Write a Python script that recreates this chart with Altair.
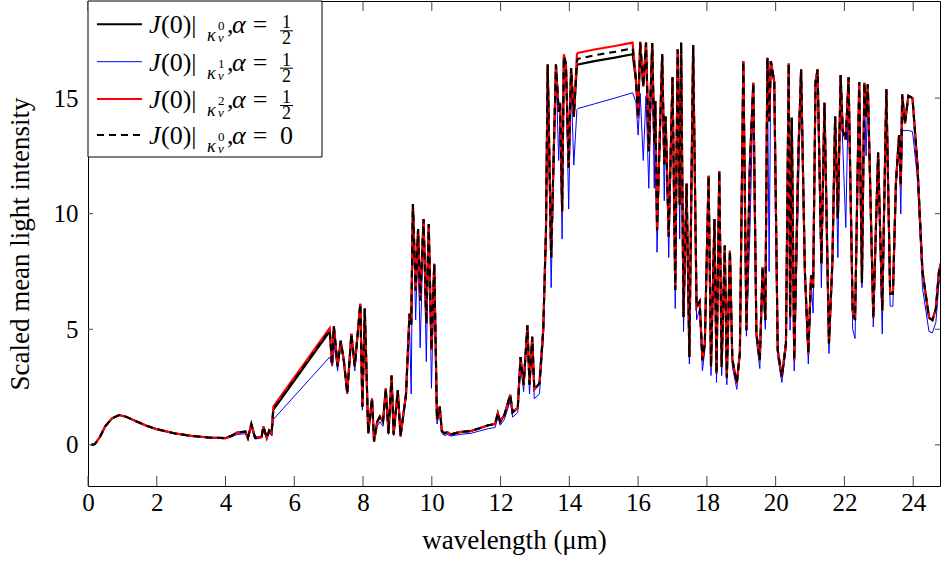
import altair as alt
import pandas as pd

FONT = "'Liberation Serif', 'DejaVu Serif', serif"

# ---------------- data ----------------
wavelength = [
    0.10, 0.20, 0.35, 0.50, 0.70, 0.91, 1.10, 1.40, 1.70, 2.00,
    2.50, 3.00, 3.50, 4.00, 4.15, 4.34, 4.58, 4.65, 4.75, 4.86,
    5.05, 5.10, 5.20, 5.27, 5.34, 5.39, 7.03, 7.10, 7.15, 7.26,
    7.35, 7.44, 7.54, 7.66, 7.76, 7.92, 7.98, 8.05, 8.15, 8.26,
    8.32, 8.41, 8.49, 8.58, 8.66, 8.74, 8.83, 8.89, 9.01, 9.09,
    9.25, 9.35, 9.40, 9.45, 9.53, 9.60, 9.66, 9.76, 9.84, 9.91,
    9.99, 10.07, 10.15, 10.23, 10.29, 10.37, 10.45, 10.55, 10.81, 11.14,
    11.39, 11.64, 11.84, 11.92, 11.99, 12.11, 12.28, 12.35, 12.50, 12.58,
    12.67, 12.78, 12.84, 12.92, 12.98, 13.13, 13.24, 13.32, 13.37, 13.47,
    13.61, 13.69, 13.73, 13.79, 13.84, 13.90, 13.98, 14.05, 14.13, 14.22,
    14.25, 14.73, 15.32, 15.84, 15.94, 16.00, 16.06, 16.15, 16.23, 16.31,
    16.41, 16.47, 16.50, 16.55, 16.70, 16.76, 16.80, 16.89, 17.00, 17.08,
    17.15, 17.21, 17.25, 17.32, 17.41, 17.49, 17.60, 17.70, 17.79, 17.87,
    17.94, 18.05, 18.12, 18.22, 18.28, 18.36, 18.43, 18.52, 18.58, 18.67,
    18.74, 18.87, 18.96, 19.06, 19.15, 19.25, 19.35, 19.44, 19.54, 19.62,
    19.70, 19.76, 19.81, 19.86, 19.96, 20.06, 20.18, 20.30, 20.38, 20.42,
    20.47, 20.54, 20.66, 20.74, 20.85, 20.95, 21.03, 21.09, 21.16, 21.22,
    21.33, 21.42, 21.55, 21.65, 21.73, 21.81, 21.89, 21.95, 22.04, 22.12,
    22.24, 22.31, 22.43, 22.51, 22.58, 22.63, 22.68, 22.84, 22.98, 23.10,
    23.22, 23.33, 23.41, 23.50, 23.59, 23.64, 23.68, 23.76, 23.86, 23.98,
    24.12, 24.27, 24.46, 24.56, 24.66, 24.75, 24.83,
]

# J(0) with kappa^0, alpha = 1/2  (solid black)
j_k0_half = [
    0.00, 0.03, 0.35, 0.80, 1.15, 1.29, 1.22, 1.02, 0.83, 0.68,
    0.50, 0.39, 0.32, 0.29, 0.38, 0.53, 0.57, 0.30, 0.90, 0.30,
    0.35, 0.79, 0.30, 0.62, 0.50, 1.51, 4.91, 3.45, 5.13, 3.40,
    4.50, 3.66, 2.23, 4.80, 3.40, 6.10, 1.65, 5.90, 0.50, 2.00,
    0.15, 1.00, 1.22, 1.00, 2.44, 0.50, 3.00, 0.45, 2.37, 0.37,
    2.20, 5.67, 5.20, 10.42, 6.68, 9.34, 6.25, 9.77, 5.24, 9.55,
    4.10, 7.83, 1.08, 1.65, 0.60, 0.50, 0.55, 0.45, 0.55, 0.60,
    0.72, 0.85, 0.90, 1.37, 1.00, 1.29, 2.16, 1.40, 1.60, 3.80,
    2.60, 5.17, 2.60, 4.67, 2.40, 2.66, 4.96, 9.27, 16.45, 8.10,
    16.45, 14.40, 14.80, 10.10, 16.80, 16.50, 12.00, 16.30, 14.20, 16.40,
    16.45, 16.60, 16.75, 16.90, 15.70, 14.15, 17.40, 15.50, 17.40, 12.70,
    17.38, 13.00, 14.87, 9.27, 16.90, 12.14, 14.20, 9.00, 15.90, 6.70,
    17.10, 10.40, 17.40, 5.53, 11.30, 3.80, 17.30, 5.96, 6.20, 3.66,
    4.40, 11.64, 3.37, 9.77, 3.09, 11.85, 3.37, 8.62, 2.90, 8.40,
    3.70, 2.66, 4.00, 16.60, 4.96, 12.14, 15.66, 4.81, 3.66, 7.68,
    5.40, 16.74, 14.00, 16.60, 15.70, 4.10, 2.95, 4.40, 16.50, 5.50,
    14.15, 3.66, 12.57, 16.24, 7.50, 3.95, 7.33, 6.80, 15.70, 16.24,
    7.83, 14.80, 4.38, 7.90, 14.20, 9.80, 16.00, 13.60, 13.20, 15.90,
    5.80, 5.40, 15.70, 7.00, 15.66, 14.20, 15.60, 5.50, 12.64, 5.80,
    15.38, 6.54, 6.54, 11.40, 13.40, 11.20, 15.16, 13.90, 15.10, 15.00,
    12.20, 7.50, 5.50, 5.40, 5.90, 7.50, 8.00,
]

# J(0) with kappa^1, alpha = 1/2  (thin blue)
j_k1_half = [
    0.00, 0.03, 0.35, 0.80, 1.15, 1.29, 1.22, 1.02, 0.83, 0.68,
    0.50, 0.39, 0.32, 0.28, 0.33, 0.45, 0.48, 0.25, 0.75, 0.25,
    0.30, 0.65, 0.28, 0.50, 0.40, 1.10, 3.80, 3.40, 4.40, 3.20,
    4.50, 3.50, 2.20, 4.50, 3.20, 6.00, 1.50, 5.80, 0.50, 1.80,
    0.15, 0.80, 1.00, 0.80, 2.20, 0.45, 2.80, 0.40, 2.20, 0.35,
    2.00, 5.30, 2.20, 10.20, 5.40, 9.00, 4.20, 9.50, 3.60, 9.30,
    2.45, 7.60, 0.90, 1.50, 0.50, 0.40, 0.45, 0.38, 0.45, 0.50,
    0.60, 0.70, 0.75, 1.20, 0.85, 1.10, 1.90, 1.20, 1.40, 3.50,
    2.30, 4.90, 2.20, 4.40, 2.00, 2.20, 4.50, 9.00, 16.30, 6.80,
    16.30, 12.30, 14.20, 8.90, 16.60, 16.30, 10.20, 15.60, 12.10, 14.50,
    14.55, 14.75, 15.00, 15.23, 14.80, 13.40, 15.20, 12.30, 15.10, 11.10,
    16.80, 11.10, 14.50, 8.33, 16.80, 10.56, 14.00, 8.10, 15.80, 5.90,
    17.00, 8.90, 17.30, 4.90, 11.00, 3.50, 17.20, 5.40, 5.90, 3.20,
    4.10, 11.50, 3.00, 9.60, 2.70, 11.70, 3.00, 8.40, 2.60, 8.20,
    3.40, 2.40, 3.80, 16.50, 4.70, 9.10, 15.50, 4.50, 3.30, 7.40,
    5.00, 16.60, 7.50, 16.50, 15.50, 3.80, 2.70, 4.10, 16.40, 4.96,
    14.00, 3.20, 10.85, 16.10, 7.20, 3.50, 7.00, 5.70, 15.60, 16.10,
    6.80, 14.60, 3.95, 7.60, 14.00, 8.10, 15.90, 13.00, 9.40, 15.60,
    5.00, 4.60, 15.50, 6.80, 15.50, 12.50, 15.40, 5.10, 12.40, 4.80,
    15.20, 6.00, 6.00, 11.00, 13.20, 9.99, 13.60, 13.60, 13.60, 13.55,
    11.60, 6.80, 4.90, 4.85, 5.30, 7.00, 7.50,
]

# J(0) with kappa^2, alpha = 1/2  (solid red)
j_k2_half = [
    0.00, 0.03, 0.35, 0.80, 1.15, 1.29, 1.22, 1.02, 0.83, 0.68,
    0.50, 0.39, 0.32, 0.29, 0.38, 0.53, 0.57, 0.30, 0.90, 0.30,
    0.35, 0.79, 0.30, 0.62, 0.50, 1.65, 5.05, 3.45, 5.13, 3.40,
    4.50, 3.66, 2.23, 4.80, 3.40, 6.10, 1.65, 5.90, 0.50, 2.00,
    0.15, 1.00, 1.22, 1.00, 2.44, 0.50, 3.00, 0.45, 2.37, 0.37,
    2.20, 5.67, 5.20, 10.42, 6.68, 9.34, 6.25, 9.77, 5.24, 9.55,
    4.10, 7.83, 1.08, 1.65, 0.60, 0.50, 0.55, 0.45, 0.55, 0.60,
    0.72, 0.85, 0.90, 1.37, 1.00, 1.29, 2.16, 1.40, 1.60, 3.80,
    2.60, 5.17, 2.60, 4.67, 2.40, 2.66, 4.96, 9.27, 16.45, 8.10,
    16.45, 14.40, 14.80, 10.10, 16.90, 16.50, 12.00, 16.30, 14.20, 16.90,
    16.95, 17.10, 17.25, 17.40, 15.80, 14.15, 17.45, 15.50, 17.40, 12.70,
    17.38, 13.00, 14.87, 9.27, 16.90, 12.14, 14.20, 9.00, 15.90, 6.70,
    17.10, 10.40, 17.40, 5.53, 11.30, 3.80, 17.30, 5.96, 6.20, 3.66,
    4.40, 11.64, 3.37, 9.77, 3.09, 11.85, 3.37, 8.62, 2.90, 8.40,
    3.70, 2.66, 4.00, 16.60, 4.96, 12.14, 15.66, 4.81, 3.66, 7.68,
    5.40, 16.74, 14.00, 16.60, 15.70, 4.10, 2.95, 4.40, 16.50, 5.50,
    14.15, 3.66, 12.57, 16.24, 7.50, 3.95, 7.33, 6.80, 15.70, 16.24,
    7.83, 14.80, 4.38, 7.90, 14.20, 9.80, 16.00, 13.60, 13.20, 15.90,
    5.80, 5.40, 15.70, 7.00, 15.66, 14.20, 15.60, 5.50, 12.64, 5.80,
    15.38, 6.54, 6.54, 11.40, 13.40, 11.20, 15.16, 13.90, 15.10, 15.00,
    12.20, 7.50, 5.50, 5.40, 5.90, 7.50, 8.00,
]

# J(0) with kappa^0, alpha = 0  (dashed black)
j_k0_zero = [
    0.00, 0.03, 0.35, 0.80, 1.15, 1.29, 1.22, 1.02, 0.83, 0.68,
    0.50, 0.39, 0.32, 0.29, 0.38, 0.53, 0.57, 0.30, 0.90, 0.30,
    0.35, 0.79, 0.30, 0.62, 0.50, 1.55, 4.95, 3.45, 5.13, 3.40,
    4.50, 3.66, 2.23, 4.80, 3.40, 6.10, 1.65, 5.90, 0.50, 2.00,
    0.15, 1.00, 1.22, 1.00, 2.44, 0.50, 3.00, 0.45, 2.37, 0.37,
    2.20, 5.67, 5.20, 10.42, 6.68, 9.34, 6.25, 9.77, 5.24, 9.55,
    4.10, 7.83, 1.08, 1.65, 0.60, 0.50, 0.55, 0.45, 0.55, 0.60,
    0.72, 0.85, 0.90, 1.37, 1.00, 1.29, 2.16, 1.40, 1.60, 3.80,
    2.60, 5.17, 2.60, 4.67, 2.40, 2.66, 4.96, 9.27, 16.45, 8.10,
    16.45, 14.40, 14.80, 10.10, 16.80, 16.50, 12.00, 16.30, 14.20, 16.60,
    16.70, 16.85, 17.00, 17.15, 15.75, 14.15, 17.40, 15.50, 17.40, 12.70,
    17.38, 13.00, 14.87, 9.27, 16.90, 12.14, 14.20, 9.00, 15.90, 6.70,
    17.10, 10.40, 17.40, 5.53, 11.30, 3.80, 17.30, 5.96, 6.20, 3.66,
    4.40, 11.64, 3.37, 9.77, 3.09, 11.85, 3.37, 8.62, 2.90, 8.40,
    3.70, 2.66, 4.00, 16.60, 4.96, 12.14, 15.66, 4.81, 3.66, 7.68,
    5.40, 16.74, 14.00, 16.60, 15.70, 4.10, 2.95, 4.40, 16.50, 5.50,
    14.15, 3.66, 12.57, 16.24, 7.50, 3.95, 7.33, 6.80, 15.70, 16.24,
    7.83, 14.80, 4.38, 7.90, 14.20, 9.80, 16.00, 13.60, 13.20, 15.90,
    5.80, 5.40, 15.70, 7.00, 15.66, 14.20, 15.60, 5.50, 12.64, 5.80,
    15.38, 6.54, 6.54, 11.40, 13.40, 11.20, 15.16, 13.90, 15.10, 15.00,
    12.20, 7.50, 5.50, 5.40, 5.90, 7.50, 8.00,
]

x_ticks = [0, 2, 4, 6, 8, 10, 12, 14, 16, 18, 20, 22, 24]
y_ticks = [0, 5, 10, 15]
x_domain = [0, 24.78]
y_domain = [-1.78, 19.2]

# ---------------- chart ----------------
W, H = 852, 485

df = pd.DataFrame({
    "wavelength": wavelength,
    "k0_half": j_k0_half,
    "k1_half": j_k1_half,
    "k2_half": j_k2_half,
    "k0_zero": j_k0_zero,
})

xs = alt.Scale(domain=x_domain, nice=False, zero=False)
ys = alt.Scale(domain=y_domain, nice=False, zero=False)

x_axis = alt.Axis(values=x_ticks, format="d", title="wavelength (μm)",
                  ticks=False, domain=False, grid=False, labelFlush=False,
                  labelOverlap=False, labelPadding=4, titlePadding=12)
y_axis = alt.Axis(values=y_ticks, format="d", title="Scaled mean light intensity",
                  ticks=False, domain=False, grid=False, labelFlush=False,
                  labelOverlap=False, labelPadding=10, titlePadding=19)


def series_line(col, color, width, dash=None):
    kw = dict(color=color, strokeWidth=width, clip=True, interpolate="linear")
    if dash:
        kw["strokeDash"] = dash
    return alt.Chart(df).mark_line(**kw).encode(
        x=alt.X("wavelength:Q", scale=xs, axis=x_axis),
        y=alt.Y(f"{col}:Q", scale=ys, axis=y_axis),
    )


DASH = [7, 5]
LW = 2.1
layers = [
    series_line("k0_half", "black", LW),
    series_line("k1_half", "#0000ff", 1.0),
    series_line("k2_half", "#ff0000", LW),
    series_line("k0_zero", "black", LW, DASH),
]

# inward ticks on all four sides (same shared axes, so nothing is dropped)
xt = pd.DataFrame({"t": x_ticks})
yt = pd.DataFrame({"t": y_ticks})
TICK = dict(color="#444444", strokeWidth=1)
layers += [
    alt.Chart(xt).mark_rule(**TICK).encode(
        x=alt.X("t:Q", scale=xs, axis=x_axis), y=alt.value(H), y2=alt.value(H - 10)),
    alt.Chart(xt).mark_rule(**TICK).encode(
        x=alt.X("t:Q", scale=xs, axis=x_axis), y=alt.value(0), y2=alt.value(10)),
    alt.Chart(yt).mark_rule(**TICK).encode(
        y=alt.Y("t:Q", scale=ys, axis=y_axis), x=alt.value(0), x2=alt.value(5)),
    alt.Chart(yt).mark_rule(**TICK).encode(
        y=alt.Y("t:Q", scale=ys, axis=y_axis), x=alt.value(W), x2=alt.value(W - 5)),
]

# ---------------- legend (custom, with math-like labels) ----------------
one = pd.DataFrame({"k": [0]})


def piece(text, x, y, size=26, italic=False, align="left"):
    return alt.Chart(one).mark_text(
        text=text, font=FONT, fontSize=size,
        fontStyle="italic" if italic else "normal",
        align=align, baseline="alphabetic", color="black",
    ).encode(x=alt.value(x), y=alt.value(y))


layers.append(
    alt.Chart(one).mark_rect(fill="white", stroke="black", strokeWidth=1).encode(
        x=alt.value(0), x2=alt.value(234), y=alt.value(0), y2=alt.value(156))
)

legend_rows = [
    ("black", LW, None, "0", "half"),
    ("#0000ff", 1.0, None, "1", "half"),
    ("#ff0000", LW, None, "2", "half"),
    ("black", LW, DASH, "0", "zero"),
]
row_y = [23.3, 60.7, 98.0, 134.0]

for (color, width, dash, sup, rhs), L in zip(legend_rows, row_y):
    kw = dict(color=color, strokeWidth=width)
    if dash:
        kw["strokeDash"] = dash
    layers.append(alt.Chart(one).mark_rule(**kw).encode(
        x=alt.value(9), x2=alt.value(54), y=alt.value(L)))
    B = L + 9
    layers += [
        piece("J", 61, B, italic=True),
        piece("(0)|", 73, B),
        piece("κ", 119, B + 8, size=18, italic=True),
        piece(sup, 130, B - 3, size=13),
        piece("ν", 130, B + 9, size=13, italic=True),
        piece(",", 139, B),
        piece("α", 144, B, italic=True),
        piece("=", 172, B, align="center"),
    ]
    if rhs == "half":
        layers += [
            piece("1", 198.5, B - 5, size=18, align="center"),
            alt.Chart(one).mark_rule(color="black", strokeWidth=1).encode(
                x=alt.value(192), x2=alt.value(205), y=alt.value(B - 2.5)),
            piece("2", 198.5, B + 11, size=18, align="center"),
        ]
    else:
        layers.append(piece("0", 192, B))

chart = alt.layer(*layers).properties(
    width=W, height=H,
    padding={"left": 88, "top": 1, "right": 1, "bottom": 81},
    autosize=alt.AutoSizeParams(type="none"),
).configure_view(
    stroke="black", strokeWidth=1,
).configure_axis(
    labelFont=FONT, titleFont=FONT, labelFontSize=25, titleFontSize=27,
    titleFontWeight="normal", labelColor="black", titleColor="black",
)

chart.save("out.html", embed_options={"renderer": "svg", "actions": False})
